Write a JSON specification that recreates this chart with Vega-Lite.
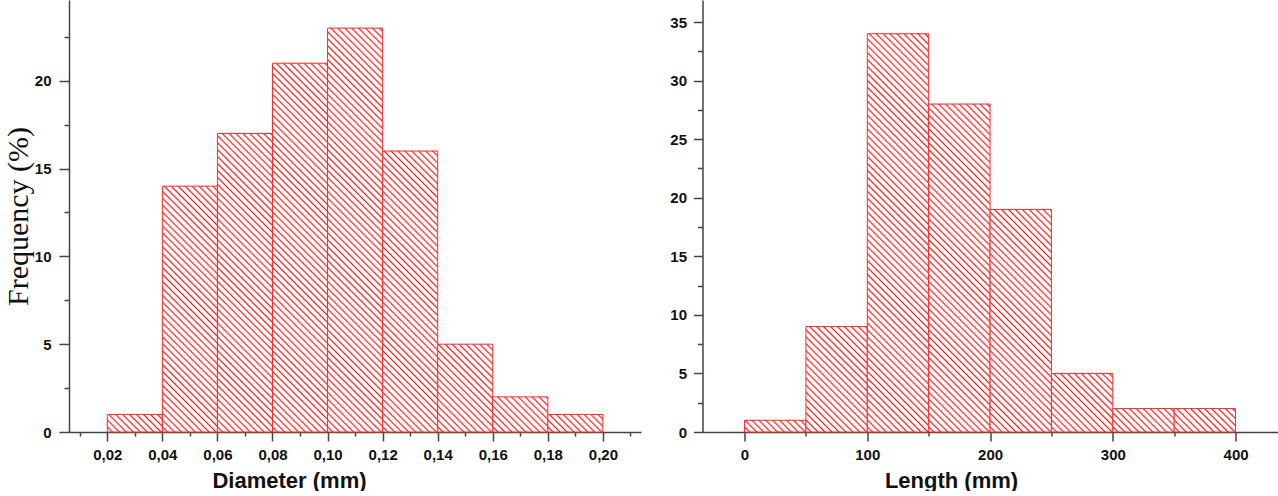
{
"$schema":"https://vega.github.io/schema/vega-lite/v6.json",
"background":"white",
"padding":{"left":3,"top":0,"right":0,"bottom":0},
"bounds":"flush",
"spacing":61.5,
"params":[{"name":"hatchStops","value":[
{"offset":0,"color":"#fff"},{"offset":0.005,"color":"#fff"},{"offset":0.0075,"color":"#f22"},
{"offset":0.01,"color":"#fff"},{"offset":0.015,"color":"#fff"},{"offset":0.0175,"color":"#f22"},
{"offset":0.02,"color":"#fff"},{"offset":0.025,"color":"#fff"},{"offset":0.0275,"color":"#f22"},
{"offset":0.03,"color":"#fff"},{"offset":0.035,"color":"#fff"},{"offset":0.0375,"color":"#f22"},
{"offset":0.04,"color":"#fff"},{"offset":0.045,"color":"#fff"},{"offset":0.0475,"color":"#f22"},
{"offset":0.05,"color":"#fff"},{"offset":0.055,"color":"#fff"},{"offset":0.0575,"color":"#f22"},
{"offset":0.06,"color":"#fff"},{"offset":0.065,"color":"#fff"},{"offset":0.0675,"color":"#f22"},
{"offset":0.07,"color":"#fff"},{"offset":0.075,"color":"#fff"},{"offset":0.0775,"color":"#f22"},
{"offset":0.08,"color":"#fff"},{"offset":0.085,"color":"#fff"},{"offset":0.0875,"color":"#f22"},
{"offset":0.09,"color":"#fff"},{"offset":0.095,"color":"#fff"},{"offset":0.0975,"color":"#f22"},
{"offset":0.10,"color":"#fff"},{"offset":0.105,"color":"#fff"},{"offset":0.1075,"color":"#f22"},
{"offset":0.11,"color":"#fff"},{"offset":0.115,"color":"#fff"},{"offset":0.1175,"color":"#f22"},
{"offset":0.12,"color":"#fff"},{"offset":0.125,"color":"#fff"},{"offset":0.1275,"color":"#f22"},
{"offset":0.13,"color":"#fff"},{"offset":0.135,"color":"#fff"},{"offset":0.1375,"color":"#f22"},
{"offset":0.14,"color":"#fff"},{"offset":0.145,"color":"#fff"},{"offset":0.1475,"color":"#f22"},
{"offset":0.15,"color":"#fff"},{"offset":0.155,"color":"#fff"},{"offset":0.1575,"color":"#f22"},
{"offset":0.16,"color":"#fff"},{"offset":0.165,"color":"#fff"},{"offset":0.1675,"color":"#f22"},
{"offset":0.17,"color":"#fff"},{"offset":0.175,"color":"#fff"},{"offset":0.1775,"color":"#f22"},
{"offset":0.18,"color":"#fff"},{"offset":0.185,"color":"#fff"},{"offset":0.1875,"color":"#f22"},
{"offset":0.19,"color":"#fff"},{"offset":0.195,"color":"#fff"},{"offset":0.1975,"color":"#f22"},
{"offset":0.20,"color":"#fff"},{"offset":0.205,"color":"#fff"},{"offset":0.2075,"color":"#f22"},
{"offset":0.21,"color":"#fff"},{"offset":0.215,"color":"#fff"},{"offset":0.2175,"color":"#f22"},
{"offset":0.22,"color":"#fff"},{"offset":0.225,"color":"#fff"},{"offset":0.2275,"color":"#f22"},
{"offset":0.23,"color":"#fff"},{"offset":0.235,"color":"#fff"},{"offset":0.2375,"color":"#f22"},
{"offset":0.24,"color":"#fff"},{"offset":0.245,"color":"#fff"},{"offset":0.2475,"color":"#f22"},
{"offset":0.25,"color":"#fff"},{"offset":0.255,"color":"#fff"},{"offset":0.2575,"color":"#f22"},
{"offset":0.26,"color":"#fff"},{"offset":0.265,"color":"#fff"},{"offset":0.2675,"color":"#f22"},
{"offset":0.27,"color":"#fff"},{"offset":0.275,"color":"#fff"},{"offset":0.2775,"color":"#f22"},
{"offset":0.28,"color":"#fff"},{"offset":0.285,"color":"#fff"},{"offset":0.2875,"color":"#f22"},
{"offset":0.29,"color":"#fff"},{"offset":0.295,"color":"#fff"},{"offset":0.2975,"color":"#f22"},
{"offset":0.30,"color":"#fff"},{"offset":0.305,"color":"#fff"},{"offset":0.3075,"color":"#f22"},
{"offset":0.31,"color":"#fff"},{"offset":0.315,"color":"#fff"},{"offset":0.3175,"color":"#f22"},
{"offset":0.32,"color":"#fff"},{"offset":0.325,"color":"#fff"},{"offset":0.3275,"color":"#f22"},
{"offset":0.33,"color":"#fff"},{"offset":0.335,"color":"#fff"},{"offset":0.3375,"color":"#f22"},
{"offset":0.34,"color":"#fff"},{"offset":0.345,"color":"#fff"},{"offset":0.3475,"color":"#f22"},
{"offset":0.35,"color":"#fff"},{"offset":0.355,"color":"#fff"},{"offset":0.3575,"color":"#f22"},
{"offset":0.36,"color":"#fff"},{"offset":0.365,"color":"#fff"},{"offset":0.3675,"color":"#f22"},
{"offset":0.37,"color":"#fff"},{"offset":0.375,"color":"#fff"},{"offset":0.3775,"color":"#f22"},
{"offset":0.38,"color":"#fff"},{"offset":0.385,"color":"#fff"},{"offset":0.3875,"color":"#f22"},
{"offset":0.39,"color":"#fff"},{"offset":0.395,"color":"#fff"},{"offset":0.3975,"color":"#f22"},
{"offset":0.40,"color":"#fff"},{"offset":0.405,"color":"#fff"},{"offset":0.4075,"color":"#f22"},
{"offset":0.41,"color":"#fff"},{"offset":0.415,"color":"#fff"},{"offset":0.4175,"color":"#f22"},
{"offset":0.42,"color":"#fff"},{"offset":0.425,"color":"#fff"},{"offset":0.4275,"color":"#f22"},
{"offset":0.43,"color":"#fff"},{"offset":0.435,"color":"#fff"},{"offset":0.4375,"color":"#f22"},
{"offset":0.44,"color":"#fff"},{"offset":0.445,"color":"#fff"},{"offset":0.4475,"color":"#f22"},
{"offset":0.45,"color":"#fff"},{"offset":0.455,"color":"#fff"},{"offset":0.4575,"color":"#f22"},
{"offset":0.46,"color":"#fff"},{"offset":0.465,"color":"#fff"},{"offset":0.4675,"color":"#f22"},
{"offset":0.47,"color":"#fff"},{"offset":0.475,"color":"#fff"},{"offset":0.4775,"color":"#f22"},
{"offset":0.48,"color":"#fff"},{"offset":0.485,"color":"#fff"},{"offset":0.4875,"color":"#f22"},
{"offset":0.49,"color":"#fff"},{"offset":0.495,"color":"#fff"},{"offset":0.4975,"color":"#f22"},
{"offset":0.50,"color":"#fff"},{"offset":0.505,"color":"#fff"},{"offset":0.5075,"color":"#f22"},
{"offset":0.51,"color":"#fff"},{"offset":0.515,"color":"#fff"},{"offset":0.5175,"color":"#f22"},
{"offset":0.52,"color":"#fff"},{"offset":0.525,"color":"#fff"},{"offset":0.5275,"color":"#f22"},
{"offset":0.53,"color":"#fff"},{"offset":0.535,"color":"#fff"},{"offset":0.5375,"color":"#f22"},
{"offset":0.54,"color":"#fff"},{"offset":0.545,"color":"#fff"},{"offset":0.5475,"color":"#f22"},
{"offset":0.55,"color":"#fff"},{"offset":0.555,"color":"#fff"},{"offset":0.5575,"color":"#f22"},
{"offset":0.56,"color":"#fff"},{"offset":0.565,"color":"#fff"},{"offset":0.5675,"color":"#f22"},
{"offset":0.57,"color":"#fff"},{"offset":0.575,"color":"#fff"},{"offset":0.5775,"color":"#f22"},
{"offset":0.58,"color":"#fff"},{"offset":0.585,"color":"#fff"},{"offset":0.5875,"color":"#f22"},
{"offset":0.59,"color":"#fff"},{"offset":0.595,"color":"#fff"},{"offset":0.5975,"color":"#f22"},
{"offset":0.60,"color":"#fff"},{"offset":0.605,"color":"#fff"},{"offset":0.6075,"color":"#f22"},
{"offset":0.61,"color":"#fff"},{"offset":0.615,"color":"#fff"},{"offset":0.6175,"color":"#f22"},
{"offset":0.62,"color":"#fff"},{"offset":0.625,"color":"#fff"},{"offset":0.6275,"color":"#f22"},
{"offset":0.63,"color":"#fff"},{"offset":0.635,"color":"#fff"},{"offset":0.6375,"color":"#f22"},
{"offset":0.64,"color":"#fff"},{"offset":0.645,"color":"#fff"},{"offset":0.6475,"color":"#f22"},
{"offset":0.65,"color":"#fff"},{"offset":0.655,"color":"#fff"},{"offset":0.6575,"color":"#f22"},
{"offset":0.66,"color":"#fff"},{"offset":0.665,"color":"#fff"},{"offset":0.6675,"color":"#f22"},
{"offset":0.67,"color":"#fff"}
]}],
"config":{
  "view":{"stroke":null},
  "axis":{"grid":false,"domainColor":"#444","domainWidth":1.5,"tickColor":"#444","tickWidth":1.5,
    "labelFont":"Liberation Sans","labelFontWeight":"bold","labelFontSize":15,"labelColor":"#111",
    "labelOverlap":false,"labelFlush":false,
    "titleFont":"Liberation Sans","titleFontWeight":"bold","titleFontSize":22,"titleColor":"#111"}
},
"hconcat":[
{
  "width":572,"height":432,
  "data":{"values":[
    {"d0":0.02,"d1":0.04,"freq":1},
    {"d0":0.04,"d1":0.06,"freq":14},
    {"d0":0.06,"d1":0.08,"freq":17},
    {"d0":0.08,"d1":0.10,"freq":21},
    {"d0":0.10,"d1":0.12,"freq":23},
    {"d0":0.12,"d1":0.14,"freq":16},
    {"d0":0.14,"d1":0.16,"freq":5},
    {"d0":0.16,"d1":0.18,"freq":2},
    {"d0":0.18,"d1":0.20,"freq":1}
  ]},
  "mark":{"type":"bar","stroke":"#ff2a2a","strokeWidth":1,
    "fill":{"expr":"{gradient: 'linear', x1: 0, y1: 1, x2: 55.06*693/(3031.6 + pow(datum.freq*17.561, 2)), y2: 1 - datum.freq*17.561*693/(3031.6 + pow(datum.freq*17.561, 2)), stops: hatchStops}"}},
  "encoding":{
    "x":{"field":"d0","type":"quantitative",
      "scale":{"domain":[0.00609,0.21384],"nice":false,"zero":false},
      "axis":{"values":[0.01,0.02,0.03,0.04,0.05,0.06,0.07,0.08,0.09,0.10,0.11,0.12,0.13,0.14,0.15,0.16,0.17,0.18,0.19,0.20,0.21],
        "labelExpr":"abs(datum.value*50 - round(datum.value*50)) < 0.01 ? replace(format(datum.value, '.2f'), '.', ',') : ''",
        "tickSize":{"condition":{"test":"abs(datum.value*50 - round(datum.value*50)) < 0.01","value":9},"value":4},
        "labelPadding":6,"title":"Diameter (mm)","titlePadding":8,"titleX":220}},
    "x2":{"field":"d1"},
    "y":{"field":"freq","type":"quantitative",
      "scale":{"domain":[0,24.6],"nice":false},
      "axis":{"values":[0,2.5,5,7.5,10,12.5,15,17.5,20,22.5],
        "labelExpr":"datum.value % 5 == 0 ? datum.label : ''",
        "tickSize":{"condition":{"test":"datum.value % 5 == 0","value":10},"value":5},
        "labelPadding":8,"title":"Frequency (%)","titleFont":"Liberation Serif","titleFontWeight":"normal","titleFontSize":30,"titlePadding":1}},
    "y2":{"datum":0}
  }
},
{
  "width":576,"height":432,
  "data":{"values":[
    {"d0":0,"d1":50,"freq":1},
    {"d0":50,"d1":100,"freq":9},
    {"d0":100,"d1":150,"freq":34},
    {"d0":150,"d1":200,"freq":28},
    {"d0":200,"d1":250,"freq":19},
    {"d0":250,"d1":300,"freq":5},
    {"d0":300,"d1":350,"freq":2},
    {"d0":350,"d1":400,"freq":2}
  ]},
  "mark":{"type":"bar","stroke":"#ff2a2a","strokeWidth":1,
    "fill":{"expr":"{gradient: 'linear', x1: 0, y1: 1, x2: 61.31*693/(3758.9 + pow(datum.freq*11.714, 2)), y2: 1 - datum.freq*11.714*693/(3758.9 + pow(datum.freq*11.714, 2)), stops: hatchStops}"}},
  "encoding":{
    "x":{"field":"d0","type":"quantitative",
      "scale":{"domain":[-34.25,434.98],"nice":false,"zero":false},
      "axis":{"values":[0,50,100,150,200,250,300,350,400],
        "labelExpr":"datum.value % 100 == 0 ? datum.label : ''",
        "tickSize":{"condition":{"test":"datum.value % 100 == 0","value":9},"value":4},
        "labelPadding":6,"title":"Length (mm)","titlePadding":8,"titleX":248.5}},
    "x2":{"field":"d1"},
    "y":{"field":"freq","type":"quantitative",
      "scale":{"domain":[0,36.88],"nice":false},
      "axis":{"values":[0,2.5,5,7.5,10,12.5,15,17.5,20,22.5,25,27.5,30,32.5,35],
        "labelExpr":"datum.value % 5 == 0 ? datum.label : ''",
        "tickSize":{"condition":{"test":"datum.value % 5 == 0","value":9},"value":5},
        "labelPadding":7,"title":null}},
    "y2":{"datum":0}
  }
}
]
}
